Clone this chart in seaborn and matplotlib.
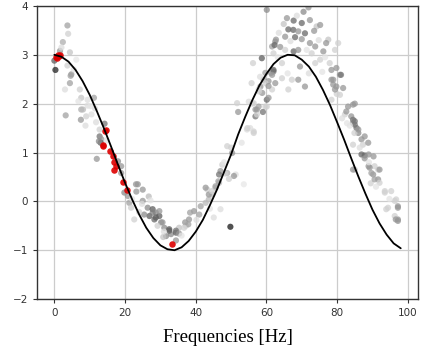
import numpy as np
import pandas as pd
import matplotlib
matplotlib.use("Agg")
import matplotlib.pyplot as plt
import seaborn as sns

# measured points (frequency, amplitude, darkness 0=white 1=black)
pts_x = [3.7, 3.9, 2.4, 1.6, 4.4, 0.0, 0.3, 3.7, 4.8, 4.6, 4.4, 3.0, 7.2, 7.6, 9.4, 11.2, 7.6, 9.4, 3.2, 7.5,
         9.0, 10.5, 11.5, 6.2, 8.1, 12.8, 14.2, 12.8, 13.3, 13.1, 12.0, 18.9, 12.6, 18.0, 18.9, 19.8, 20.8, 21.2, 21.7, 22.6,
         23.6, 23.2, 25.0, 26.7, 26.4, 27.8, 28.7, 29.7, 28.3, 30.2, 29.2, 31.1, 32.5, 33.0, 34.4, 35.3, 31.6, 30.8, 34.4, 37.2,
         37.0, 26.9, 25.4, 24.0, 23.1, 25.0, 27.8, 28.7, 29.7, 30.6, 32.5, 39.5, 41.0, 41.4, 42.8, 43.7, 44.7, 43.3, 45.6, 46.6,
         45.1, 47.0, 48.9, 51.3, 53.6, 38.1, 37.9, 36.7, 34.4, 35.3, 38.4, 49.8,
         42.8, 43.7, 44.6, 45.6, 46.4, 47.0, 47.5, 48.4, 46.6, 50.8, 49.4, 50.3, 50.0, 48.9, 54.5, 56.4, 55.4, 52.0, 51.7, 56.9,
         57.3, 57.8, 56.4, 55.0, 59.7, 58.8, 58.3, 59.2, 55.8, 59.7, 56.2, 62.5, 61.6, 58.7, 62.0, 61.3, 60.6, 62.5, 61.6, 60.1,
         54.6, 56.4, 60.1, 57.9,
         71.9, 70.5, 65.8, 67.7, 70.0, 72.3, 64.9, 66.2, 67.6, 69.0, 70.9, 74.2, 75.2, 73.5, 65.3, 68.1, 70.0, 62.7, 62.3, 63.9,
         72.3, 73.8, 77.5, 76.9, 65.3, 67.7, 69.0, 72.8, 76.1, 62.0, 64.4, 69.5, 73.8, 75.2, 77.9, 78.4, 62.0, 61.6, 64.4, 69.0,
         67.2, 59.7, 60.6, 78.4, 70.9, 66.2, 57.8, 60.6, 60.1, 57.3, 56.9, 56.0, 59.0,
         80.3, 79.4, 79.8, 80.8, 78.9, 79.8, 81.7, 80.8, 79.9, 78.4, 83.1, 84.5, 82.2, 84.0, 85.0, 85.5, 86.0, 84.9, 87.8, 86.9,
         87.3, 84.5, 86.9, 87.8, 88.9, 90.3, 87.8, 90.6, 88.9, 85.0, 91.6, 84.5, 88.8, 89.2, 92.0, 84.5, 90.2, 91.6, 93.5, 95.3,
         96.7, 97.2, 94.4, 97.2, 96.3, 89.5, 89.7, 90.6, 92.0, 93.5, 96.3, 97.2, 93.9, 97.2, 96.6, 81.1, 78.9, 79.4, 85.0, 82.6,
         84.5, 85.0, 86.0,
         2.0, 5.5, 6.8, 8.8, 10.2, 11.8, 14.8, 16.2, 22.0, 24.8, 27.2, 31.0, 36.0, 40.2, 44.0, 48.0, 53.0, 58.2, 63.2, 66.8,
         68.6, 71.4, 74.8, 76.6, 81.4, 83.6, 86.4, 89.0, 91.0, 94.8, 72.0, 66.0, 63.5, 75.8, 82.8]
pts_y = [3.60, 3.43, 3.26, 3.08, 3.05, 2.88, 2.69, 2.78, 2.60, 2.57, 2.42, 2.29, 2.29, 2.12, 2.08, 2.12, 1.88, 1.96, 1.76, 1.67,
         1.74, 1.78, 1.90, 2.90, 1.88, 1.47, 1.59, 1.33, 1.27, 1.20, 0.87, 0.72, 1.23, 0.82, 0.58, 0.18, 0.11, -0.03, -0.13, -0.37,
         0.35, 0.20, 0.01, 0.10, -0.13, -0.16, -0.23, -0.30, -0.37, -0.43, -0.50, -0.54, -0.57, -0.67, -0.64, -0.54, -0.71, -0.73, -0.80, -0.50,
         -0.43, -0.30, -0.27, -0.22, 0.35, 0.24, -0.23, -0.33, -0.20, -0.43, -0.60, -0.20, -0.27, -0.10, -0.03, 0.04, 0.14, 0.24, 0.28, 0.38,
         -0.33, -0.16, 0.58, 0.55, 0.35, -0.37, -0.47, -0.54, -0.60, -0.66, -0.23, -0.52,
         0.28, 0.14, 0.21, 0.31, 0.41, 0.62, 0.75, 0.57, 0.55, 0.52, 0.46, 0.99, 1.10, 1.13, 1.47, 1.43, 1.50, 1.83, 2.01, 1.74,
         1.88, 1.94, 2.01, 2.04, 1.94, 2.22, 2.35, 2.49, 2.42, 2.63, 2.83, 3.27, 3.17, 2.93, 2.66, 2.63, 2.46, 2.42, 2.29, 2.08,
         1.50, 1.40, 3.92, 2.25,
         3.97, 3.88, 3.75, 3.70, 3.65, 3.71, 3.63, 3.52, 3.51, 3.48, 3.44, 3.58, 3.61, 3.49, 3.37, 3.36, 3.32, 3.31, 3.20, 3.16,
         3.24, 3.17, 3.31, 3.24, 3.10, 3.07, 3.10, 3.03, 3.07, 3.03, 2.83, 2.76, 2.83, 2.90, 2.83, 2.69, 2.69, 2.59, 2.52, 2.49,
         2.49, 2.42, 2.36, 2.49, 2.35, 2.29, 2.29, 2.12, 1.94, 1.78, 1.88, 2.00, 1.83,
         3.24, 3.10, 2.73, 2.59, 2.49, 2.35, 2.32, 2.18, 2.20, 2.08, 1.94, 1.98, 1.78, 1.74, 1.64, 1.50, 1.40, 1.40, 1.33, 1.27,
         1.16, 1.16, 0.96, 0.94, 0.96, 0.92, 0.88, 0.72, 0.72, 0.65, 0.65, 1.60, 1.20, 0.69, 0.65, 0.65, 0.55, 0.45, 0.21, 0.21,
         0.04, -0.13, -0.13, -0.37, -0.30, 0.37, 0.58, 0.45, 0.38, 0.18, 0.01, -0.10, -0.16, -0.40, -0.37, 2.59, 2.39, 2.29, 2.00, 1.84,
         1.67, 1.57, 1.47,
         3.15, 2.70, 2.05, 1.55, 1.95, 1.62, 1.25, 0.98, 0.05, -0.05, 0.02, -0.62, -0.70, -0.38, -0.15, 0.80, 1.20, 2.55, 2.95, 3.28,
         3.80, 3.10, 3.30, 2.95, 1.70, 1.55, 1.10, 0.80, 0.30, 0.05, 2.62, 2.62, 3.45, 2.65, 1.60]
pts_dark = [.40, .20, .35, .45, .25, .70, .95, .20, .45, .40, .40, .15, .20, .25, .15, .40, .35, .15, .40, .45,
            .20, .15, .15, .10, .30, .20, .60, .60, .45, .70, .45, .45, .50, .50, .45, .50, .45, .40, .20, .20,
            .45, .45, .45, .30, .50, .70, .50, .70, .65, .50, .20, .50, .70, .50, .70, .25, .50, .25, .45, .20,
            .45, .70, .50, .20, .45, .45, .55, .70, .45, .45, .70, .45, .40, .40, .30, .30, .30, .20, .35, .30,
            .15, .15, .35, .15, .10, .45, .40, .20, .60, .45, .40, 1.0,
            .45, .45, .20, .40, .40, .45, .20, .20, .60, .45, .20, .45, .20, .20, .15, .20, .15, .45, .20, .60,
            .45, .40, .20, .15, .20, .45, .45, .40, .20, .40, .20, .45, .40, .70, .60, .45, .45, .45, .20, .65,
            .20, .20, .50, .20,
            .45, .50, .45, .65, .65, .45, .25, .65, .65, .45, .65, .25, .45, .45, .45, .65, .45, .45, .65, .45,
            .45, .45, .25, .45, .20, .65, .45, .20, .45, .20, .20, .45, .20, .20, .20, .45, .65, .45, .20, .45,
            .20, .20, .45, .45, .45, .20, .20, .45, .20, .20, .45, .20, .60,
            .20, .20, .45, .45, .45, .45, .45, .20, .20, .20, .45, .45, .20, .45, .60, .60, .50, .20, .45, .45,
            .20, .20, .65, .65, .45, .45, .45, .20, .45, .20, .20, .45, .45, .45, .45, .45, .45, .45, .20, .20,
            .20, .45, .20, .45, .20, .20, .40, .40, .20, .20, .20, .45, .20, .45, .45, .60, .45, .45, .45, .45,
            .60, .60, .45,
            .15, .12, .12, .15, .12, .15, .12, .12, .12, .15, .12, .15, .12, .15, .12, .12, .12, .15, .12, .15,
            .15, .12, .15, .12, .15, .12, .15, .12, .12, .12, .15, .12, .15, .12, .12]

red_x = [0.5, 1.0, 1.3, 0.8, 1.6, 14.5, 14.2, 13.7, 13.9, 15.8, 16.5, 17.0, 17.3, 17.0, 19.4, 20.5, 33.4]
red_y = [2.95, 3.00, 2.97, 2.93, 2.99, 1.46, 1.44, 1.14, 1.16, 1.03, 0.92, 0.80, 0.72, 0.65, 0.39, 0.24, -0.88]

# fitted curve, read every 2 Hz
curve_x = list(range(0, 100, 2))
curve_y = [3.00, 2.96, 2.86, 2.69, 2.46, 2.18, 1.85, 1.50, 1.13, 0.75, 0.38, 0.04, -0.27, -0.54, -0.75, -0.90, -0.98,
           -1.00, -0.94, -0.81, -0.62, -0.38, -0.08, 0.24, 0.60, 0.96, 1.37, 1.73, 2.07, 2.37, 2.61, 2.81, 2.94, 3.00,
           2.99, 2.90, 2.76, 2.55, 2.28, 1.97, 1.62, 1.26, 0.88, 0.51, 0.16, -0.17, -0.45, -0.68, -0.86, -0.96]

df = pd.DataFrame({"freq": pts_x, "amp": pts_y, "dark": pts_dark})

sns.set_style("whitegrid")
fig = plt.figure(figsize=(4.21, 3.49), dpi=100)
ax = fig.add_axes([0.088, 0.143, 0.905, 0.84])

sns.scatterplot(data=df, x="freq", y="amp", hue="dark", palette="gray_r", hue_norm=(0, 1.1),
                s=20, linewidth=0, alpha=0.75, legend=False, ax=ax)
sns.scatterplot(x=red_x, y=red_y, color="#dd0000", s=22, linewidth=0, alpha=0.9, ax=ax)
sns.lineplot(x=curve_x, y=curve_y, color="black", linewidth=1.3, ax=ax)

ax.set_xlim(-4.9, 102.9)
ax.set_ylim(-2, 4)
ax.set_xticks([0, 20, 40, 60, 80, 100])
ax.set_yticks([-2, -1, 0, 1, 2, 3, 4])
ax.grid(True, color="#cccccc", linewidth=0.9)
for sp in ax.spines.values():
    sp.set_color("#333333")
    sp.set_linewidth(1.0)
ax.tick_params(axis="both", labelsize=7.5, colors="#333333", length=3, width=0.8,
               bottom=True, left=True, direction="out")
ax.set_ylabel("")
ax.set_xlabel("Frequencies [Hz]", fontsize=13.5, family="Liberation Serif", color="black", labelpad=8)

fig.savefig("out.png", dpi=100)
